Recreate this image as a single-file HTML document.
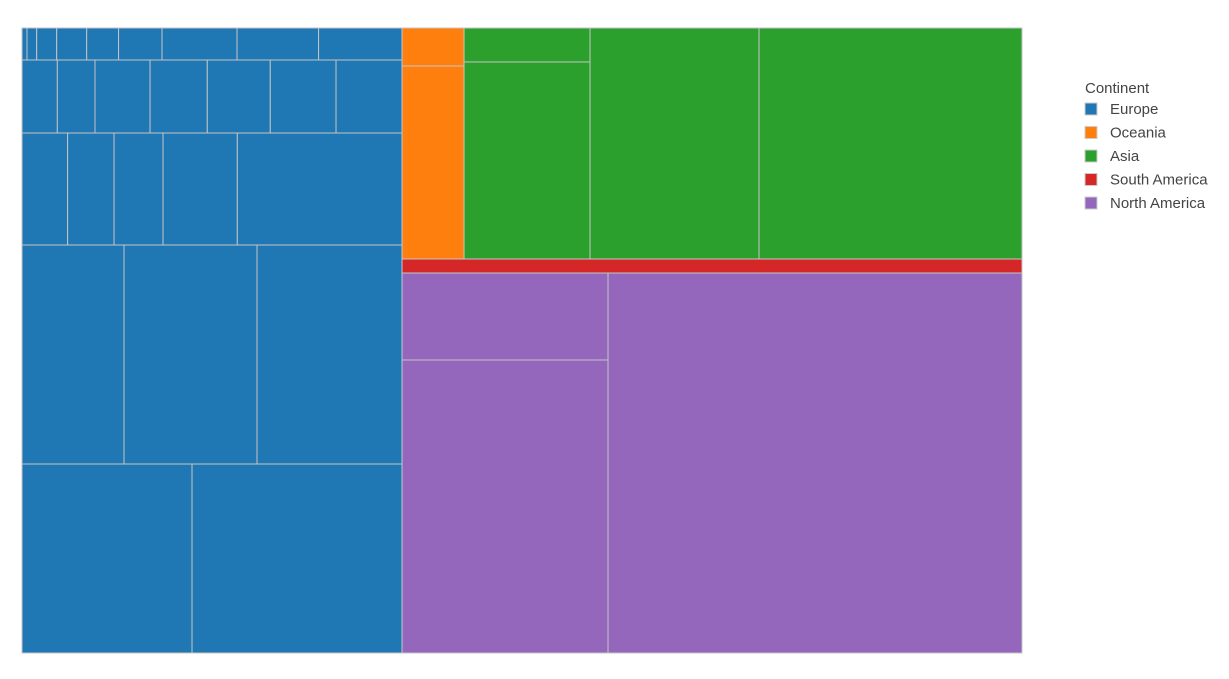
<!DOCTYPE html>
<html><head><meta charset="utf-8">
<style>
body{margin:0;background:#fff;width:1229px;height:679px;overflow:hidden;font-family:"Liberation Sans",Arial,sans-serif;}
svg{display:block}
</style></head>
<body>
<svg id="chart" width="1229" height="679">
  <g id="tiles"></g>
  <g id="legend">
    <text x="1085" y="93" font-size="15" fill="#444">Continent</text>
  </g>
</svg>
<script>
// Leaf values per continent (grouped in layout rows/columns)
const europeRows = [
  [16,31,64,96,102,139,240,261,267],
  [258,275,402,418,460,480,482],
  [511,520,549,832,1845],
  [2234,2913,3176],
  [3213,3969]
];
const oceaniaValues = [236,1197];
const asiaColA = [428,2482];
const asiaCols = [3904,6075];
const southAmericaValues = [868];
const northAmericaColA = [1792,6036];
const northAmericaCols = [15732];
const continents = ["Europe","Oceania","Asia","South America","North America"];
const colors = ["#1f77b4","#ff7f0e","#2ca02c","#d62728","#9467bd"];

function leaf(v,c,name){return {v:v,c:c,name:name};}
function node(dir,children){return {dir:dir,children:children};}
function sum(n){return n.children?n.children.reduce((a,b)=>a+sum(b),0):n.v;}

const europe = node('v', europeRows.map((r,i)=>node('h', r.map((v,j)=>leaf(v,0,'europe-country-'+(i+1)+'-'+(j+1))))));
const oceania = node('v', oceaniaValues.map((v,j)=>leaf(v,1,'oceania-country-'+(j+1))));
const asia = node('h', [node('v', asiaColA.map((v,j)=>leaf(v,2,'asia-country-'+(j+1))))].concat(asiaCols.map((v,j)=>leaf(v,2,'asia-country-'+(j+3)))));
const sa = node('h', southAmericaValues.map((v,j)=>leaf(v,3,'south-america-country-'+(j+1))));
const na = node('h', [node('v', northAmericaColA.map((v,j)=>leaf(v,4,'north-america-country-'+(j+1))))].concat(northAmericaCols.map((v,j)=>leaf(v,4,'north-america-country-'+(j+3)))));
const root = node('h', [europe, node('v', [node('h',[oceania, asia]), sa, na])]);

const X0=22, Y0=28, W=1000, H=625;
const g=document.getElementById('tiles');
const NS='http://www.w3.org/2000/svg';
function layout(n,x,y,w,h){
  if(!n.children){
    const r=document.createElementNS(NS,'rect');
    r.setAttribute('x',x);r.setAttribute('y',y);r.setAttribute('width',w);r.setAttribute('height',h);
    r.setAttribute('fill',colors[n.c]);r.setAttribute('stroke','#c4c4c4');r.setAttribute('stroke-width','1');
    
    
    g.appendChild(r);return;
  }
  const tot=sum(n);let off=0;
  n.children.forEach(ch=>{
    const f=sum(ch)/tot;
    if(n.dir==='h'){layout(ch,x+off,y,w*f,h);off+=w*f;}
    else{layout(ch,x,y+off,w,h*f);off+=h*f;}
  });
}
layout(root,X0,Y0,W,H);

const lg=document.getElementById('legend');
continents.forEach((c,i)=>{
  const yy=109+i*23.5;
  const r=document.createElementNS(NS,'rect');
  r.setAttribute('x',1085);r.setAttribute('y',yy-6);r.setAttribute('width',12);r.setAttribute('height',12);
  r.setAttribute('fill',colors[i]);r.setAttribute('stroke','#ccc');r.setAttribute('stroke-width','1');
  
  
  lg.appendChild(r);
  const t=document.createElementNS(NS,'text');
  t.setAttribute('x',1110);t.setAttribute('y',yy+5);t.setAttribute('font-size','15');t.setAttribute('fill','#444');
  t.textContent=c;
  
  
  lg.appendChild(t);
});
</script>
</body></html>
